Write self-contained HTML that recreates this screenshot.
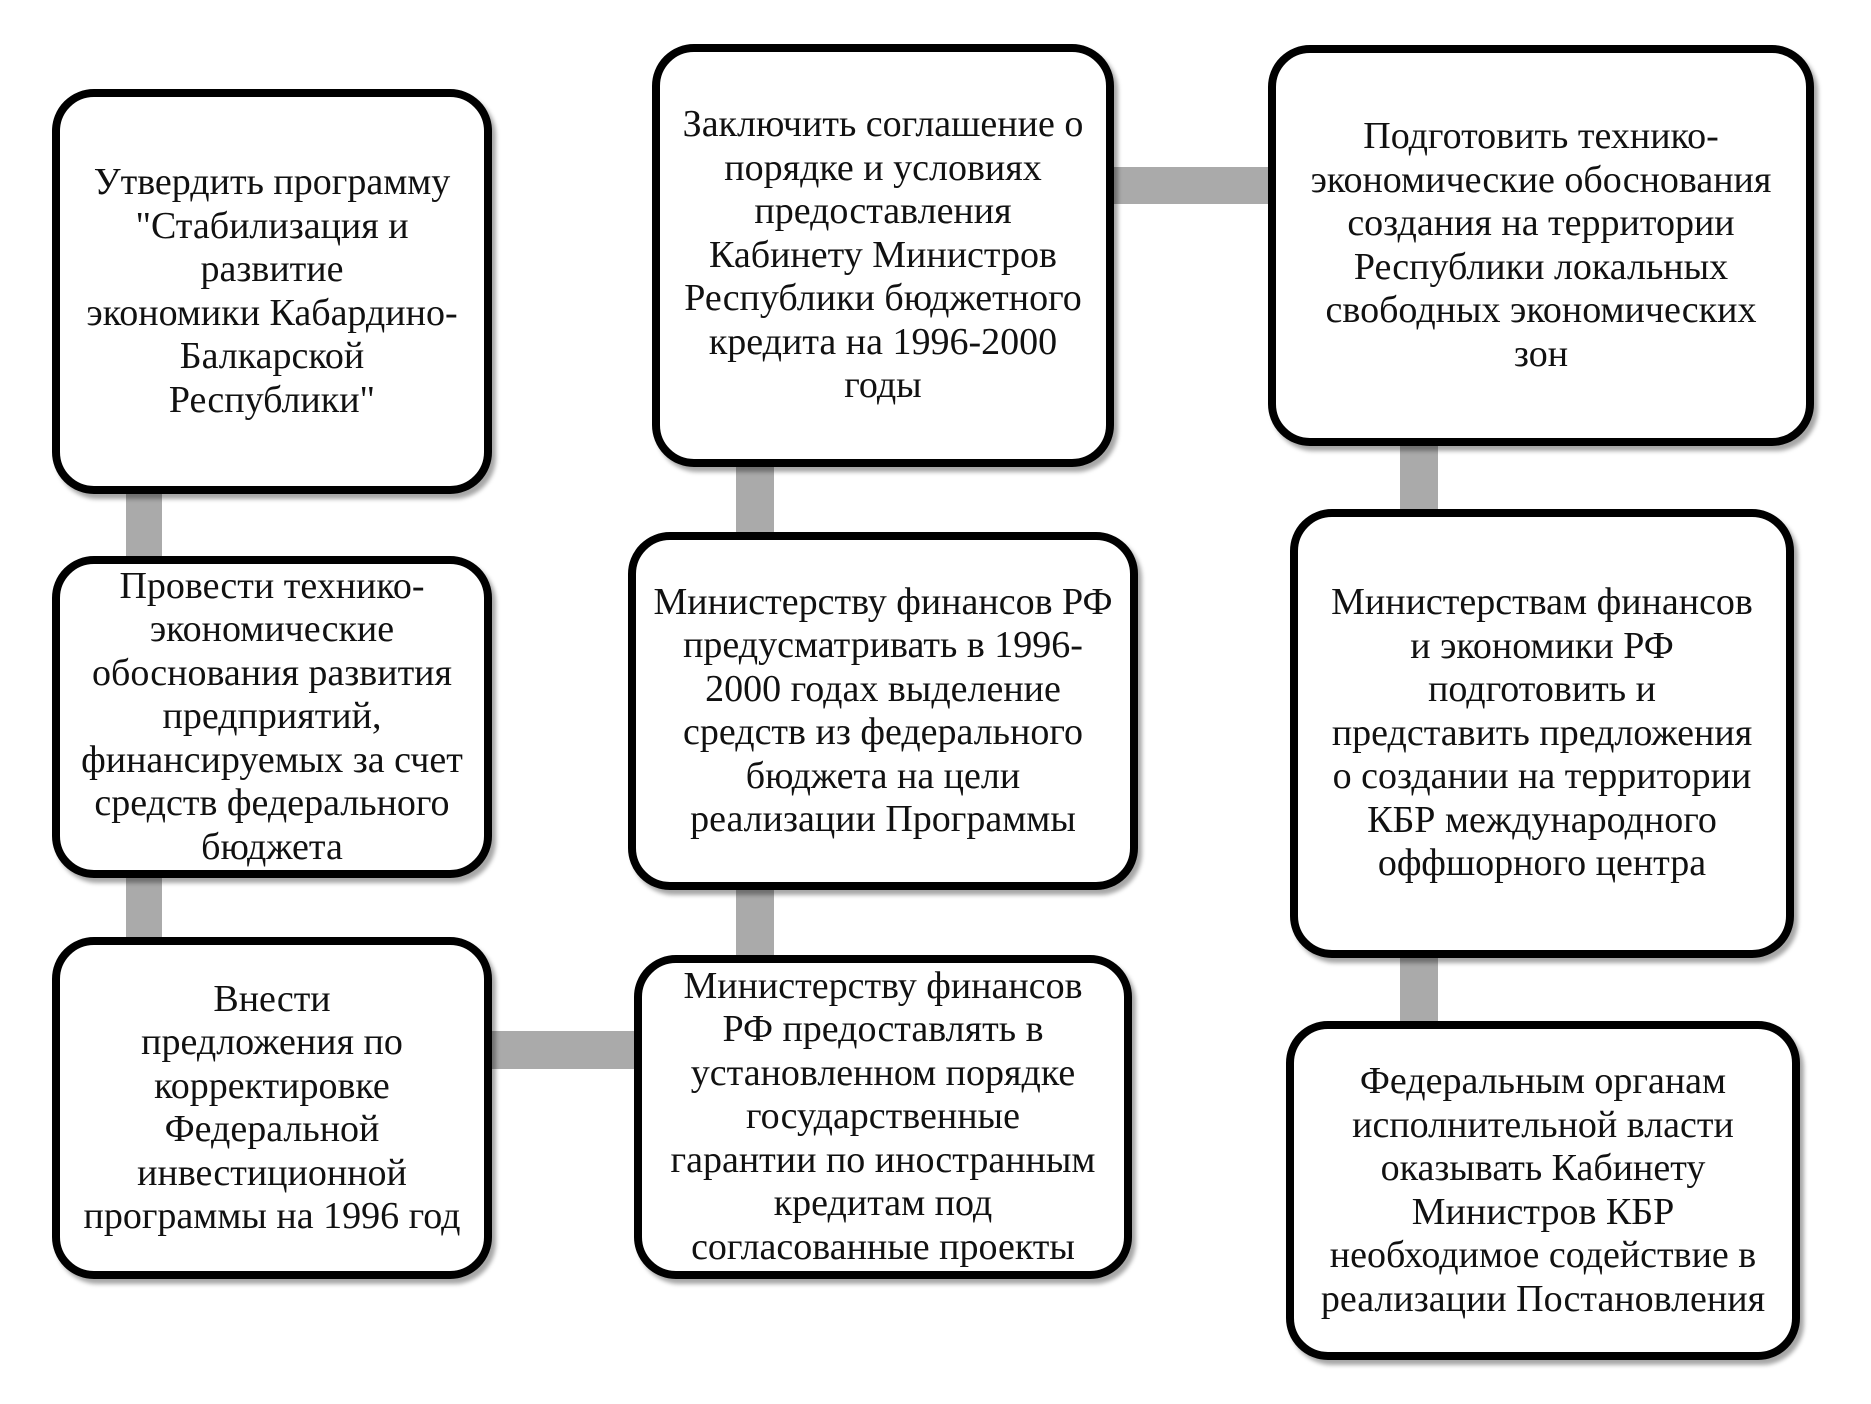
<!DOCTYPE html>
<html><head><meta charset="utf-8"><style>
body{margin:0;width:1871px;height:1404px;background:#fff;position:relative;overflow:hidden;font-family:"Liberation Serif",serif;}
.b{position:absolute;box-sizing:border-box;border:8px solid #000;border-radius:42px;background:#fff;display:flex;align-items:center;justify-content:center;text-align:center;font-size:38px;line-height:43.5px;color:#111;box-shadow:4px 5px 4px rgba(0,0,0,0.35);padding:0;white-space:nowrap;}
.c{position:absolute;background:#aaa;}
</style></head><body>
<div class="c" style="left:126px;top:480px;width:36px;height:90px"></div>
<div class="c" style="left:126px;top:870px;width:36px;height:80px"></div>
<div class="c" style="left:736px;top:460px;width:38px;height:80px"></div>
<div class="c" style="left:736px;top:880px;width:38px;height:85px"></div>
<div class="c" style="left:1400px;top:440px;width:38px;height:80px"></div>
<div class="c" style="left:1400px;top:950px;width:38px;height:80px"></div>
<div class="c" style="left:1105px;top:167px;width:180px;height:37px"></div>
<div class="c" style="left:485px;top:1031px;width:160px;height:38px"></div>

<div class="b" style="left:52px;top:89px;width:440px;height:405px">Утвердить программу<br>"Стабилизация и<br>развитие<br>экономики Кабардино-<br>Балкарской<br>Республики"</div>
<div class="b" style="left:52px;top:556px;width:440px;height:322px">Провести технико-<br>экономические<br>обоснования развития<br>предприятий,<br>финансируемых за счет<br>средств федерального<br>бюджета</div>
<div class="b" style="left:52px;top:937px;width:440px;height:342px">Внести<br>предложения по<br>корректировке<br>Федеральной<br>инвестиционной<br>программы на 1996 год</div>
<div class="b" style="left:652px;top:44px;width:462px;height:423px">Заключить соглашение о<br>порядке и условиях<br>предоставления<br>Кабинету Министров<br>Республики бюджетного<br>кредита на 1996-2000<br>годы</div>
<div class="b" style="left:628px;top:532px;width:510px;height:358px">Министерству финансов РФ<br>предусматривать в 1996-<br>2000 годах выделение<br>средств из федерального<br>бюджета на цели<br>реализации Программы</div>
<div class="b" style="left:634px;top:955px;width:498px;height:324px">Министерству финансов<br>РФ предоставлять в<br>установленном порядке<br>государственные<br>гарантии по иностранным<br>кредитам под<br>согласованные проекты</div>
<div class="b" style="left:1268px;top:45px;width:546px;height:401px">Подготовить технико-<br>экономические обоснования<br>создания на территории<br>Республики локальных<br>свободных экономических<br>зон</div>
<div class="b" style="left:1290px;top:509px;width:504px;height:449px">Министерствам финансов<br>и экономики РФ<br>подготовить и<br>представить предложения<br>о создании на территории<br>КБР международного<br>оффшорного центра</div>
<div class="b" style="left:1286px;top:1021px;width:514px;height:339px">Федеральным органам<br>исполнительной власти<br>оказывать Кабинету<br>Министров КБР<br>необходимое содействие в<br>реализации Постановления</div>
</body></html>
